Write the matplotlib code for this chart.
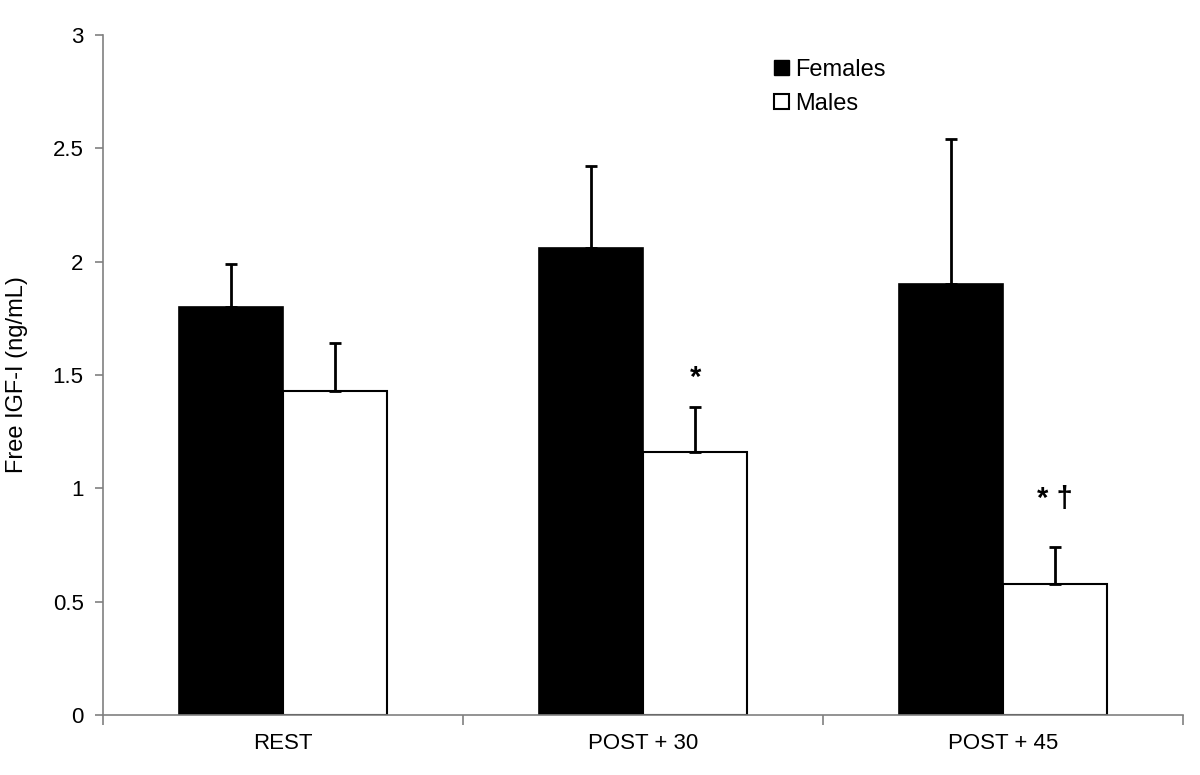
import matplotlib
matplotlib.use("Agg")
import matplotlib.pyplot as plt
from matplotlib.patches import Patch
import numpy as np

categories = ["REST", "POST + 30", "POST + 45"]
females = [1.80, 2.06, 1.90]
females_err = [0.19, 0.36, 0.64]
males = [1.43, 1.16, 0.58]
males_err = [0.21, 0.20, 0.16]
annotations = ["", "*", "* \u2020"]
annot_offset_pt = [0, 21, 35]

plt.rcParams['font.family'] = ['Liberation Sans', 'DejaVu Sans']

fig = plt.figure(figsize=(12, 7.75), dpi=100)
ax = fig.add_axes([0.0858, 0.0774, 0.9, 0.8774])

x = np.arange(len(categories))
w = 0.29
gray = '#808080'

ax.bar(x - w/2, females, w, color='black', edgecolor='black', linewidth=1.2, zorder=2)
ax.bar(x + w/2, males, w, color='white', edgecolor='black', linewidth=1.5, zorder=2)

ekw = dict(fmt='none', ecolor='black', elinewidth=2, capsize=4.5, capthick=2, zorder=3)
ax.errorbar(x - w/2, females, yerr=[np.zeros(3), females_err], **ekw)
ax.errorbar(x + w/2, males, yerr=[np.zeros(3), males_err], **ekw)

for i, a in enumerate(annotations):
    if a:
        ax.annotate(a, xy=(x[i] + w/2, males[i] + males_err[i]), xytext=(0, annot_offset_pt[i]),
                    textcoords='offset points', ha='center', va='center',
                    fontsize=21, fontweight='bold')

ax.set_xlim(-0.5, 2.5)
ax.set_ylim(0, 3)
ax.set_yticks([0, 0.5, 1, 1.5, 2, 2.5, 3])
ax.set_yticklabels(['0', '0.5', '1', '1.5', '2', '2.5', '3'])
ax.set_xticks(x)
ax.set_xticklabels(categories)
ax.set_xticks([-0.5, 0.5, 1.5, 2.5], minor=True)
ax.tick_params(axis='x', which='major', length=0, pad=13, labelsize=16)
ax.tick_params(axis='x', which='minor', length=7, color=gray, width=1.2, direction='out')
ax.tick_params(axis='y', length=6, color=gray, width=1.2, labelsize=16, pad=8)

for s in ['top', 'right']:
    ax.spines[s].set_visible(False)
for s in ['left', 'bottom']:
    ax.spines[s].set_color(gray)
    ax.spines[s].set_linewidth(1.2)

ax.set_ylabel('Free IGF-I (ng/mL)', fontsize=17, labelpad=18)

handles = [Patch(facecolor='black', edgecolor='black', label='Females'),
           Patch(facecolor='white', edgecolor='black', linewidth=1.5, label='Males')]
ax.legend(handles=handles, loc='upper left', bbox_to_anchor=(0.602, 0.996), frameon=False,
          handlelength=0.62, handleheight=0.62, handletextpad=0.25, labelspacing=0.5, fontsize=17)

fig.savefig('out.png', dpi=100)
